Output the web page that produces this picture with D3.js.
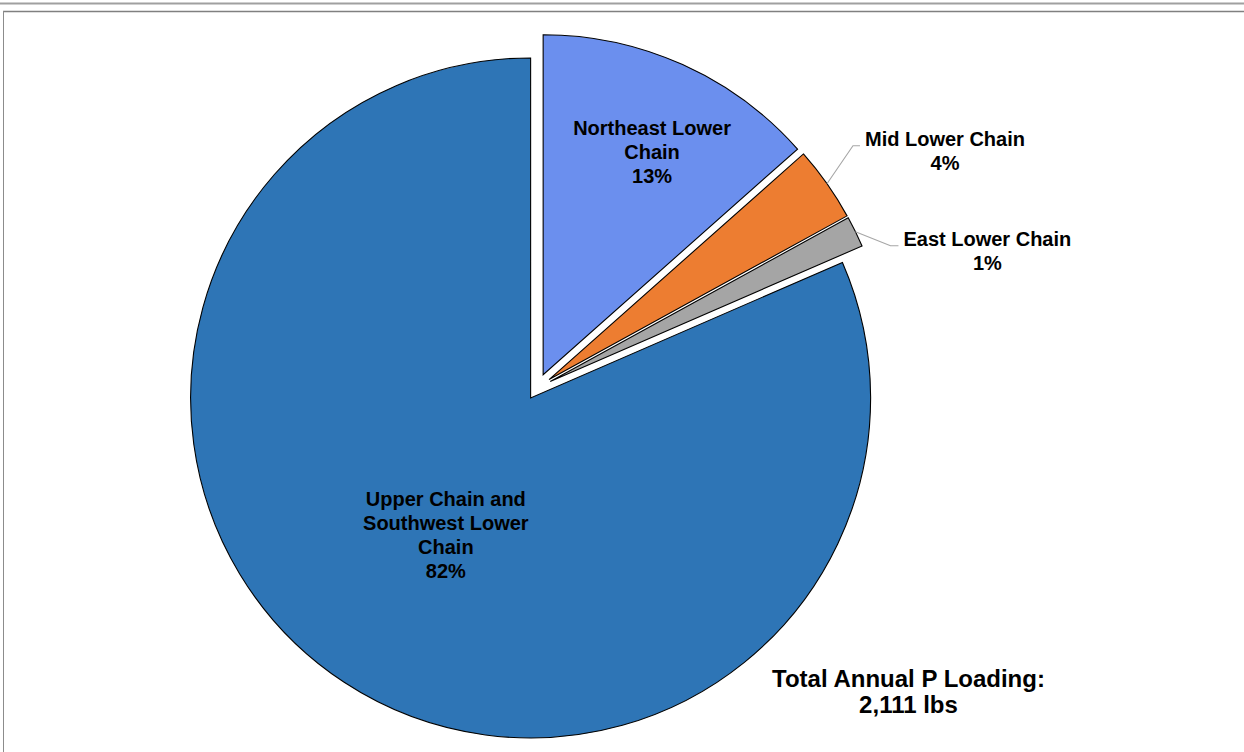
<!DOCTYPE html>
<html>
<head>
<meta charset="utf-8">
<script src="https://cdn.jsdelivr.net/npm/d3@7"></script>
<style>
  html, body { margin: 0; padding: 0; background: #fff; }
  svg { display: block; }
  text { font-family: "Liberation Sans", Arial, sans-serif; font-weight: bold; fill: #000; }
</style>
</head>
<body>
<svg id="chart" width="1244" height="752"></svg>
<script>
// Annual phosphorus loading by source area (lbs/yr)
const categories = [
  "Northeast Lower Chain",
  "Mid Lower Chain",
  "East Lower Chain",
  "Upper Chain and Southwest Lower Chain"
];
const loads = [284, 75, 31, 1721];
const colors = ["#6B8FEE", "#ED7D31", "#A5A5A5", "#2E75B6"];
const labelLines = [
  ["Northeast Lower", "Chain"],
  ["Mid Lower Chain"],
  ["East Lower Chain"],
  ["Upper Chain and", "Southwest Lower", "Chain"]
];
const totalTitle = "Total Annual P Loading:";

const W = 1244, H = 752;
const svg = d3.select("#chart");

// frame lines
svg.append("line").attr("x1", 0).attr("x2", W).attr("y1", 3.5).attr("y2", 3.5)
  .attr("stroke", "#a0a0a0").attr("stroke-width", 2);
svg.append("line").attr("x1", 3).attr("x2", W).attr("y1", 11.5).attr("y2", 11.5)
  .attr("stroke", "#808080").attr("stroke-width", 1.6);
svg.append("line").attr("x1", 3.5).attr("x2", 3.5).attr("y1", 11).attr("y2", H)
  .attr("stroke", "#8c8c8c").attr("stroke-width", 1);

// pie layout
const cx = 537.2, cy = 387.9, R = 340;
const total = d3.sum(loads);
const pct = d3.format(".0%");

const pie = d3.pie().sort(null).value(d => d).startAngle(0).endAngle(2 * Math.PI);
const arcs = pie(loads);
const arc = d3.arc().innerRadius(0).outerRadius(R);

// explosion distance per slice (the big slice sits slightly closer)
const bigIdx = loads.indexOf(d3.max(loads));
const explode = (i) => i === bigIdx ? 12 : 14.5;

const polar = (a, r) => [Math.sin(a) * r, -Math.cos(a) * r];

const g = svg.append("g").attr("transform", `translate(${cx},${cy})`);

const slices = arcs.map((a, i) => {
  const mid = (a.startAngle + a.endAngle) / 2;
  const [ox, oy] = polar(mid, explode(i));
  return { a, i, mid, ox, oy };
});

g.selectAll("path.slice")
  .data(slices)
  .join("path")
  .attr("class", "slice")
  .attr("transform", d => `translate(${d.ox},${d.oy})`)
  .attr("d", d => arc(d.a))
  .attr("fill", d => colors[d.i])
  .attr("stroke", "#000")
  .attr("stroke-width", 1.1)
  .attr("stroke-linejoin", "miter");

// label placement: inside labels for large slices, leader lines for small ones
const inside = {
  0: { rf: 0.728, da: 0.033 },
  3: { rf: 0.473, da: -0.025 }
};
const leaders = {
  1: { elbow: [26, -38], run: 7 },
  2: { elbow: [35, 14], run: 8 }
};
const lineH = 24;
const fontSize = 20;

slices.forEach(s => {
  const lines = labelLines[s.i].concat([pct(loads[s.i] / total)]);
  if (inside[s.i]) {
    const p = inside[s.i];
    const [lx, ly] = polar(s.mid + p.da, R * p.rf);
    const x = s.ox + lx, y = s.oy + ly;
    const t = g.append("text").attr("text-anchor", "middle").style("font-size", fontSize + "px");
    lines.forEach((ln, k) => {
      t.append("tspan").attr("x", x)
        .attr("y", y + (k - (lines.length - 1) / 2) * lineH)
        .attr("dy", "0.35em").text(ln);
    });
  } else {
    const p = leaders[s.i];
    const [sx0, sy0] = polar(s.mid, R);
    const sx = s.ox + sx0, sy = s.oy + sy0;
    const ex = sx + p.elbow[0], ey = sy + p.elbow[1];
    const fx = ex + p.run;
    g.append("polyline")
      .attr("points", [[sx, sy], [ex, ey], [fx, ey]].map(q => q.join(",")).join(" "))
      .attr("fill", "none").attr("stroke", "#a6a6a6").attr("stroke-width", 1.1);
    const t = g.append("text").attr("text-anchor", "middle").style("font-size", fontSize + "px");
    const spans = lines.map(ln => t.append("tspan").attr("dy", "0.35em").text(ln));
    const maxW = d3.max(spans, sp => sp.node().getComputedTextLength());
    const tx = fx + 5 + maxW / 2;
    spans.forEach((sp, k) => sp.attr("x", tx).attr("y", ey - 7 + k * lineH));
  }
});

// total annotation
const tot = svg.append("text").attr("text-anchor", "middle").style("font-size", "24px");
tot.append("tspan").attr("x", 908.5).attr("y", 686.5).text(totalTitle);
tot.append("tspan").attr("x", 908.5).attr("y", 713.3).text(d3.format(",")(total) + " lbs");
</script>
</body>
</html>
